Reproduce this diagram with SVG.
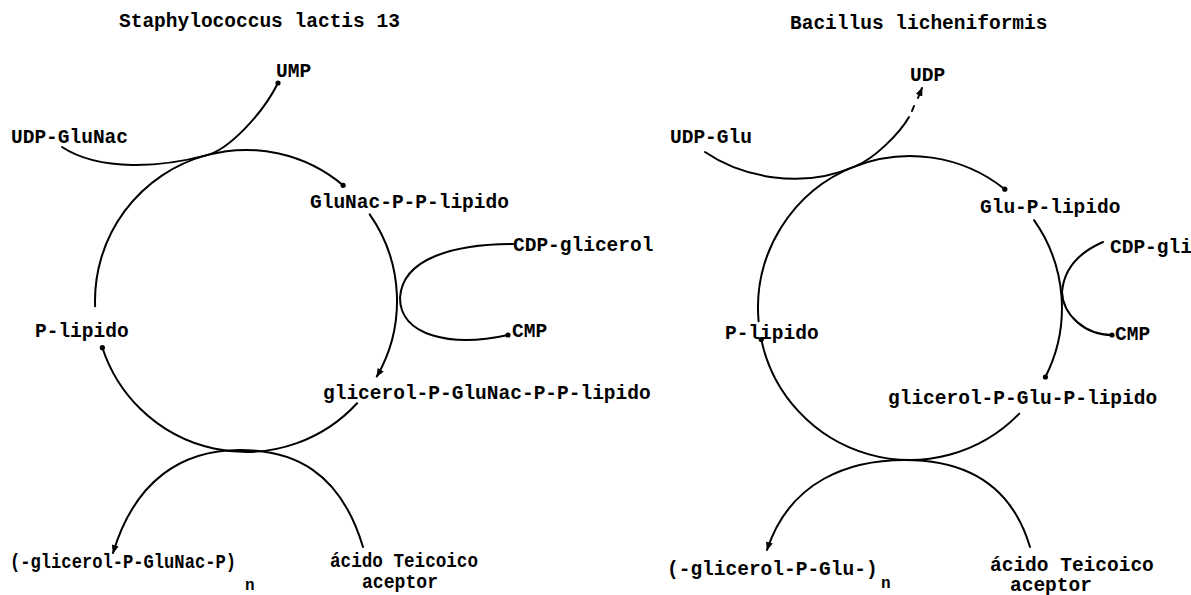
<svg xmlns="http://www.w3.org/2000/svg" width="1191" height="595" viewBox="0 0 1191 595">
  <defs>
    <marker id="dot" viewBox="0 0 6 6" refX="3" refY="3" markerWidth="6" markerHeight="6" markerUnits="userSpaceOnUse">
      <circle cx="3" cy="3" r="2.6" fill="#000"/>
    </marker>
    <marker id="arrow" viewBox="0 0 10 8" refX="9" refY="4" markerWidth="9" markerHeight="7" orient="auto" markerUnits="userSpaceOnUse">
      <path d="M0,0 L10,4 L0,8 Z" fill="#000"/>
    </marker>
    <style>
      .lbl { font-family: "Liberation Mono", "DejaVu Sans Mono", monospace; font-weight: bold; font-size: 19.5px; fill: #000; }
      .sub { font-family: "Liberation Mono", "DejaVu Sans Mono", monospace; font-weight: bold; font-size: 16px; fill: #000; }
      .ln { fill: none; stroke: #000; stroke-width: 2; stroke-linecap: round; }
      .dotend { marker-end: url(#dot); }
      .arrowend { marker-end: url(#arrow); }
    </style>
  </defs>
  <rect width="1191" height="595" fill="#fff"/>

  <!-- Staphylococcus lactis 13 cycle -->
  <g id="connectors-left">
    <!-- lipid carrier cycle, circle centre (246,301) r 151 -->
    <path class="ln" d="M95.1,306.3 A151,151 0 0 1 206.9,155.1"/>
    <path class="ln dotend" d="M62,147 C100,172 163,167 206.9,155.1 A151,151 0 0 1 343.1,185.3"/>
    <path class="ln dotend" d="M206.9,155.1 C228,150 262,115 278,83"/>
    <path class="ln arrowend" d="M369.7,214.4 A151,151 0 0 1 376.8,376.5"/>
    <path class="ln dotend" d="M357.1,403.2 A151,151 0 0 1 102.4,347.7"/>
    <!-- CDP-glicerol in, CMP out -->
    <path class="ln dotend" d="M513,244 C455,244 402,258 400,298 C400,335 450,348 508,335"/>
    <!-- transfer to the teichoic acceptor -->
    <path class="ln arrowend" d="M363,547 C340,470 292,450 240,450 C182,450 135,480 113,553"/>
  </g>

  <g id="title-left"><text class="lbl" x="119" y="27">Staphylococcus lactis 13</text></g>
  <g id="n-ump"><text class="lbl" x="276" y="77">UMP</text></g>
  <g id="n-udp-glunac"><text class="lbl" x="11" y="143">UDP-GluNac</text></g>
  <g id="n-glunac-pp-lipido"><text class="lbl" x="310" y="208">GluNac-P-P-lipido</text></g>
  <g id="n-cdp-glicerol"><text class="lbl" x="513" y="251">CDP-glicerol</text></g>
  <g id="n-cmp-left"><text class="lbl" x="512" y="337">CMP</text></g>
  <g id="n-p-lipido-left"><text class="lbl" x="35" y="337">P-lipido</text></g>
  <g id="n-glicerol-glunac"><text class="lbl" x="323" y="399">glicerol-P-GluNac-P-P-lipido</text></g>
  <g id="n-polymer-left"><text class="lbl" x="10" y="568" textLength="226" lengthAdjust="spacingAndGlyphs">(-glicerol-P-GluNac-P)</text><text class="sub" x="245" y="590">n</text></g>
  <g id="n-acceptor-left"><text class="lbl" x="330" y="567" textLength="148" lengthAdjust="spacingAndGlyphs">ácido Teicoico</text><text class="lbl" x="362" y="588" textLength="76" lengthAdjust="spacingAndGlyphs">aceptor</text></g>

  <!-- Bacillus licheniformis cycle -->
  <g id="connectors-right">
    <!-- lipid carrier cycle, circle centre (910,308) r 152 -->
    <path class="ln" d="M758.6,321.3 A152,152 0 0 1 855.5,166.1"/>
    <path class="ln dotend" d="M705,152 C740,176 800,190 853.1,167.1 A152,152 0 0 1 1004.8,189.2"/>
    <path class="ln" d="M855.5,166.1 C874,159 900,133 909,117"/>
    <path class="ln arrowend" d="M912,111 L914,106 M918,98 L922,88"/>
    <path class="ln dotend" d="M1034,220.2 A152,152 0 0 1 1045.4,377"/>
    <path class="ln dotend" d="M1019.3,413.6 A152,152 0 0 1 761.3,339.6"/>
    <!-- CDP-glicerol in, CMP out -->
    <path class="ln dotend" d="M1103,242 C1080,252 1064,268 1062,292 C1063,315 1085,335 1112,335"/>
    <!-- transfer to the teichoic acceptor -->
    <path class="ln arrowend" d="M1030,547 C1010,480 960,460 905,460 C850,460 790,480 767,550"/>
  </g>

  <g id="title-right"><text class="lbl" x="790" y="29">Bacillus licheniformis</text></g>
  <g id="n-udp"><text class="lbl" x="910" y="81">UDP</text></g>
  <g id="n-udp-glu"><text class="lbl" x="670" y="143">UDP-Glu</text></g>
  <g id="n-glu-p-lipido"><text class="lbl" x="980" y="213">Glu-P-lipido</text></g>
  <g id="n-cdp-gli"><text class="lbl" x="1110" y="253">CDP-gli</text></g>
  <g id="n-cmp-right"><text class="lbl" x="1115" y="340">CMP</text></g>
  <g id="n-p-lipido-right"><text class="lbl" x="725" y="339">P-lipido</text></g>
  <g id="n-glicerol-glu"><text class="lbl" x="888" y="404">glicerol-P-Glu-P-lipido</text></g>
  <g id="n-polymer-right"><text class="lbl" x="667" y="575">(-glicerol-P-Glu-)</text><text class="sub" x="881" y="588">n</text></g>
  <g id="n-acceptor-right"><text class="lbl" x="990" y="571">ácido Teicoico</text><text class="lbl" x="1010" y="591">aceptor</text></g>
</svg>
